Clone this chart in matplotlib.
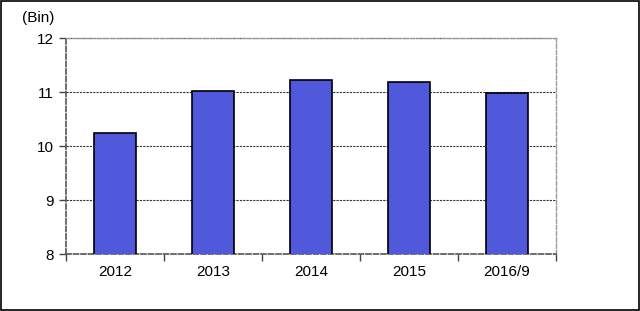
import matplotlib
matplotlib.use("Agg")
import matplotlib.pyplot as plt
from matplotlib.patches import Rectangle

categories = ["2012", "2013", "2014", "2015", "2016/9"]
values = [10.24, 11.02, 11.22, 11.19, 10.99]
yticks = [8, 9, 10, 11, 12]

plt.rcParams['font.family'] = ['Liberation Sans', 'DejaVu Sans']

fig = plt.figure(figsize=(6.4, 3.11), dpi=100)
ax = fig.add_axes([66/640, 1-254/311, 490/640, 216/311])

x = list(range(len(categories)))
ax.bar(x, values, width=0.42, bottom=0, color='#5058dc', edgecolor='black', linewidth=1.2, zorder=3)
ax.set_xlim(-0.5, len(categories)-0.5)
ax.set_ylim(8, 12)
ax.set_yticks(yticks)
ax.set_yticklabels([str(t) for t in yticks], fontsize=11)
ax.set_xticks(x)
ax.set_xticklabels(categories, fontsize=11)
ax.tick_params(axis='x', length=0, pad=8)
ax.set_xticks([i+0.5 for i in range(-1, len(categories))], minor=True)
ax.tick_params(axis='x', which='minor', length=5, width=1, color='#444444')
ax.tick_params(axis='y', length=5, width=1, color='#444444', pad=4)
ax.yaxis.grid(True, linestyle=(0, (2, 1)), color='#333333', linewidth=0.8, zorder=0)
for side in ['top', 'right']:
    ax.spines[side].set_linestyle((0, (3, 1.5)))
    ax.spines[side].set_color('#999999')
    ax.spines[side].set_linewidth(1.0)
for side in ['left', 'bottom']:
    ax.spines[side].set_linestyle((0, (3, 1.5)))
    ax.spines[side].set_color('#555555')
    ax.spines[side].set_linewidth(1.2)

fig.text(22/640, 1-18/311, "(Bin)", fontsize=11, va='center', ha='left')
fig.patches.append(Rectangle((0.001, 0.002), 0.997, 0.995, transform=fig.transFigure,
                             fill=False, edgecolor='black', linewidth=1.2))
fig.savefig("out.png", dpi=100)
